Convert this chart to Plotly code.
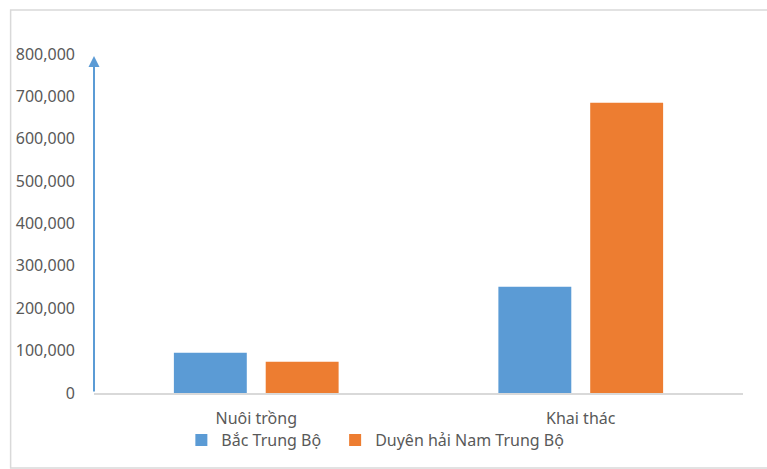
import plotly.graph_objects as go

categories = ["Nuôi trồng", "Khai thác"]
series_names = ["Bắc Trung Bộ", "Duyên hải Nam Trung Bộ"]
bac_trung_bo = [95000, 251000]
duyen_hai_ntb = [74000, 685000]
y_ticks = [0, 100000, 200000, 300000, 400000, 500000, 600000, 700000, 800000]

colors = ["#5B9BD5", "#ED7D31"]
txt = "#595959"
font_family = "Noto Sans"
fs = 16

W, H = 767, 469
L, R, T, B = 93.5, 23.5, 54, 76
pw, ph = W - L - R, H - T - B
leg_y = (T + ph - 440) / ph
leg_x = [(181 - L) / pw, (335 - L) / pw]
leg_ids = ["legend", "legend2"]

fig = go.Figure()
for name, vals, c, lid in zip(series_names, [bac_trung_bo, duyen_hai_ntb], colors, leg_ids):
    fig.add_trace(go.Bar(x=categories, y=vals, name=name, legend=lid,
                         marker=dict(color=c, line=dict(width=0))))

leg_common = dict(orientation="h", xanchor="left", y=leg_y, yanchor="middle",
                  font=dict(size=fs, color=txt), bgcolor="rgba(0,0,0,0)")

fig.update_layout(
    width=W, height=H,
    margin=dict(l=L, r=R, t=T, b=B, pad=0),
    paper_bgcolor="white", plot_bgcolor="white",
    barmode="group", bargap=0.434, bargroupgap=0.206,
    font=dict(family=font_family, size=fs, color=txt),
    showlegend=True,
    legend=dict(x=leg_x[0], **leg_common),
    legend2=dict(x=leg_x[1], **leg_common),
    xaxis=dict(showgrid=False, showline=True, linecolor="#D9D9D9", linewidth=1.5,
               ticks="", ticklabelstandoff=10, tickfont=dict(size=fs, color=txt),
               fixedrange=True),
    yaxis=dict(range=[0, 800000], tickvals=y_ticks, tickformat=",", showgrid=False,
               showline=False, zeroline=False, ticks="", ticklabelstandoff=18,
               tickfont=dict(size=fs, color=txt), fixedrange=True),
)

# Blue arrow as y-axis
fig.add_annotation(xref="paper", yref="y", x=0, y=795000, axref="pixel", ayref="y",
                   ax=0, ay=0, showarrow=True, arrowhead=2, arrowsize=1.1,
                   arrowwidth=2, arrowcolor="#5B9BD5", text="")

# Outer frame
fig.add_shape(type="rect", xref="paper", yref="paper",
              x0=(10 - L) / pw, x1=(W + 20 - L) / pw,
              y0=(T + ph - 468) / ph, y1=(T + ph - 10) / ph,
              line=dict(color="#D9D9D9", width=1.5), fillcolor="rgba(0,0,0,0)", layer="below")

fig.write_html("out.html", config={"displayModeBar": False},
               post_script="document.body.style.margin='0';")
